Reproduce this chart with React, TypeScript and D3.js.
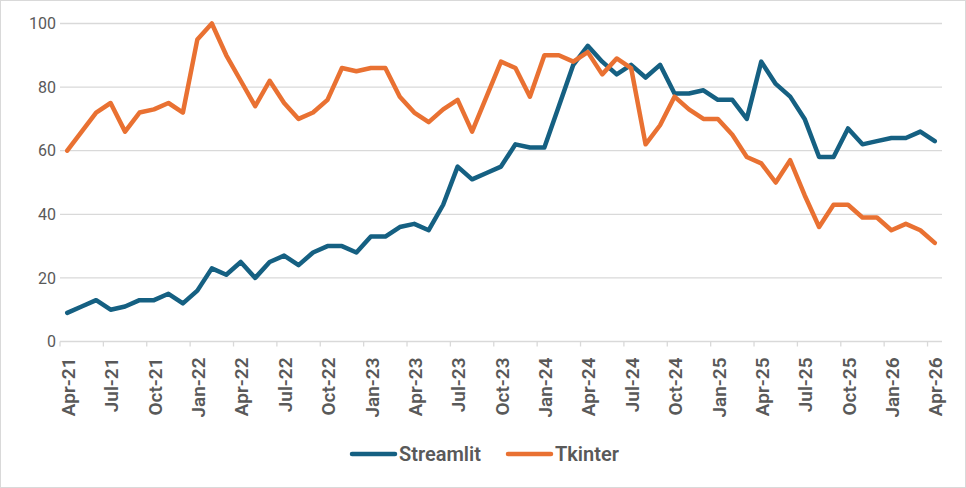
import React from 'react';
import * as d3 from 'd3';

const months: string[] = [];
{
    const names = ['Jan', 'Feb', 'Mar', 'Apr', 'May', 'Jun', 'Jul', 'Aug', 'Sep', 'Oct', 'Nov', 'Dec'];
    for (let i = 0; i < 61; i++) {
        const m = (3 + i) % 12;
        const y = 21 + Math.floor((3 + i) / 12);
        months.push(`${names[m]}-${y}`);
    }
}

const streamlit = [
    9, 11, 13, 10, 11, 13, 13, 15, 12, 16,
    23, 21, 25, 20, 25, 27, 24, 28, 30, 30,
    28, 33, 33, 36, 37, 35, 43, 55, 51, 53,
    55, 62, 61, 61, 74, 87, 93, 88, 84, 87,
    83, 87, 78, 78, 79, 76, 76, 70, 88, 81,
    77, 70, 58, 58, 67, 62, 63, 64, 64, 66,
    63,
];

const tkinter = [
    60, 66, 72, 75, 66, 72, 73, 75, 72, 95,
    100, 90, 82, 74, 82, 75, 70, 72, 76, 86,
    85, 86, 86, 77, 72, 69, 73, 76, 66, 77,
    88, 86, 77, 90, 90, 88, 91, 84, 89, 86,
    62, 68, 77, 73, 70, 70, 65, 58, 56, 50,
    57, 46, 36, 43, 43, 39, 39, 35, 37, 35,
    31,
];

const yTicks = [0, 20, 40, 60, 80, 100];

const series = [
    { name: 'Streamlit', values: streamlit, color: '#156082' },
    { name: 'Tkinter', values: tkinter, color: '#E97132' },
];

const width = 966;
const height = 488;
const left = 60;
const right = 942;
const top = 23.5;
const bottom = 341.5;
const textColor = '#595959';
const font = 'Roboto, "Liberation Sans", sans-serif';

const App: React.FC = () => {
    const x = d3.scaleBand<string>().domain(months).range([left, right]);
    const y = d3.scaleLinear().domain([0, 100]).range([bottom, top]);
    const cx = (i: number) => (x(months[i]) ?? 0) + x.bandwidth() / 2;
    const line = d3.line<number>((d, i) => cx(i), (d) => y(d));
    const tickIdx = months.map((m, i) => i).filter((i) => i % 3 === 0);

    return (
        <svg width={width} height={height} style={{ position: 'absolute', left: 0, top: 0 }}>
            <rect x={0.5} y={0.5} width={width - 1} height={height - 1} fill="#fff" stroke="#D9D9D9" />
            <g stroke="#D9D9D9" strokeWidth={1.3}>
                {yTicks.map((t) => (
                    <line key={t} x1={left} x2={right} y1={y(t)} y2={y(t)} />
                ))}
                {tickIdx.map((i) => (
                    <line key={i} x1={x(months[i])} x2={x(months[i])} y1={bottom} y2={bottom + 5} />
                ))}
            </g>
            <g fill={textColor} fontFamily={font} fontSize={16} fontWeight={400} textAnchor="end">
                {yTicks.map((t) => (
                    <text key={t} x={56} y={y(t)} dy="0.35em">{t}</text>
                ))}
            </g>
            <g fill={textColor} fontFamily={font} fontSize={19} fontWeight={600} textAnchor="end">
                {tickIdx.map((i) => (
                    <text key={i} transform={`translate(${cx(i) + 1},${bottom + 16}) rotate(-90)`} dy="0.35em">
                        {months[i]}
                    </text>
                ))}
            </g>
            <g fill="none" strokeWidth={4.5} strokeLinejoin="round" strokeLinecap="round">
                {series.map((s) => (
                    <path key={s.name} d={line(s.values) ?? ''} stroke={s.color} />
                ))}
            </g>
            <g fontFamily={font} fontSize={20} fontWeight={600} fill={textColor}>
                {series.map((s, k) => (
                    <g key={s.name} transform={`translate(${k === 0 ? 352 : 508},454)`}>
                        <line x1={0} x2={43} y1={0} y2={0} stroke={s.color} strokeWidth={4.5} strokeLinecap="round" />
                        <text x={47} y={0} dy="0.35em">{s.name}</text>
                    </g>
                ))}
            </g>
        </svg>
    );
};

export default App;
